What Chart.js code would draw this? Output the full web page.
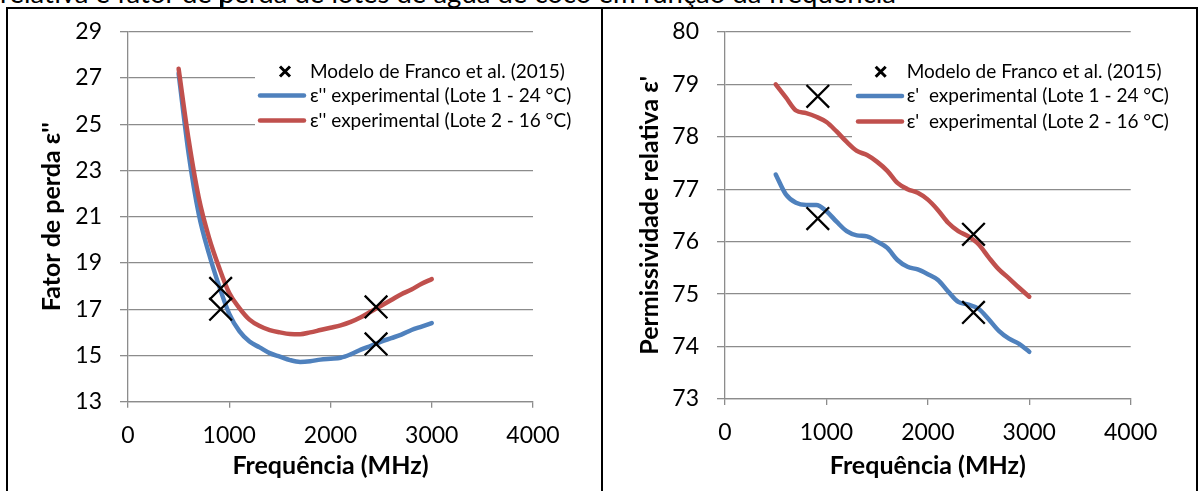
<!DOCTYPE html>
<html>
<head>
<meta charset="utf-8">
<script src="https://cdn.jsdelivr.net/npm/chart.js@4/dist/chart.umd.min.js"></script>
<style>
  html, body { margin: 0; padding: 0; background: #fff; width: 1198px; height: 491px; overflow: hidden; }
  .caption { position: absolute; left: 0; top: -24px; font-family: Lato, "Open Sans", sans-serif; font-size: 27.5px; white-space: nowrap; color: #000; }
  .frame { position: absolute; border: 2px solid #000; box-sizing: border-box; pointer-events: none; z-index: 2; }
  .rule { position: absolute; background: #000; z-index: 2; }
  .wrap { position: absolute; top: 0; height: 491px; z-index: 1; }
  canvas { display: block; }
</style>
</head>
<body>
<div class="caption">relativa e fator de perda de lotes de água de coco em função da frequência</div>
<div class="wrap" style="left:0;width:600px"><canvas id="loss" width="600" height="491"></canvas></div>
<div class="wrap" style="left:600px;width:598px"><canvas id="perm" width="598" height="491"></canvas></div>
<div class="rule" style="left:220px;top:0;width:2px;height:8px"></div>
<div class="frame" style="left:6px;top:7px;width:597px;height:500px"></div>
<div class="frame" style="left:601px;top:7px;width:597px;height:500px"></div>

<script>
// Measured frequencies (MHz)
const freqMHz = [500, 600, 700, 800, 900, 1000, 1100, 1200, 1300, 1400, 1500, 1600, 1700,
                 1800, 1900, 2000, 2100, 2200, 2300, 2400, 2500, 2600, 2700, 2800, 2900, 3000];

// Loss factor ε''
const lossLote1 = [27.2, 23.7, 21.1, 19.4, 18.0, 16.8, 16.05, 15.6, 15.35, 15.1, 14.95, 14.8, 14.72,
                   14.75, 14.82, 14.86, 14.9, 15.05, 15.25, 15.42, 15.6, 15.75, 15.9, 16.1, 16.25, 16.4];
const lossLote2 = [27.4, 24.3, 21.8, 20.1, 18.8, 17.7, 17.05, 16.55, 16.27, 16.1, 16.0, 15.93, 15.92,
                   16.0, 16.1, 16.2, 16.3, 16.45, 16.65, 16.9, 17.15, 17.4, 17.65, 17.85, 18.1, 18.3];

// Relative permittivity ε'
const permLote1 = [77.28, 76.9, 76.74, 76.7, 76.7, 76.58, 76.38, 76.2, 76.12, 76.1, 76.0, 75.88, 75.65,
                   75.52, 75.47, 75.38, 75.27, 75.05, 74.85, 74.8, 74.72, 74.52, 74.3, 74.15, 74.05, 73.9];
const permLote2 = [79.0, 78.75, 78.5, 78.45, 78.38, 78.28, 78.1, 77.9, 77.73, 77.65, 77.52, 77.35, 77.12,
                   77.0, 76.93, 76.8, 76.6, 76.36, 76.2, 76.1, 75.95, 75.7, 75.47, 75.3, 75.12, 74.95];

// Franco et al. (2015) model points
const modelFreq = [915, 915, 2450, 2450];
const modelLoss = [17.9, 17.0, 17.1, 15.5];
const modelPerm = [78.77, 76.44, 76.14, 74.65];

// Axis ticks
const freqTicks = [0, 1000, 2000, 3000, 4000];
const lossTicks = [13, 15, 17, 19, 21, 23, 25, 27, 29];
const permTicks = [73, 74, 75, 76, 77, 78, 79, 80];

const seriesLabels = {
  model: 'Modelo de Franco et al. (2015)',
  loss1: "ε'' experimental (Lote 1 - 24 °C)",
  loss2: "ε'' experimental (Lote 2 - 16 °C)",
  perm1: "ε'  experimental (Lote 1 - 24 °C)",
  perm2: "ε'  experimental (Lote 2 - 16 °C)"
};

const FONT = 'Lato, "Open Sans", sans-serif';
const BLUE = '#4F81BD';
const RED = '#C0504D';
const GRID = '#8c8c8c';

const pts = (xs, ys) => xs.map((x, i) => ({ x: x, y: ys[i] }));

// Legend drawn inside the plot on a white panel
const insideLegend = {
  id: 'insideLegend',
  beforeDatasetsDraw(chart, args, o) {
    const ctx = chart.ctx;
    ctx.save();
    ctx.fillStyle = '#fff';
    ctx.fillRect(o.x, o.y, o.w, o.h);
    ctx.font = o.fontSize + 'px ' + FONT;
    ctx.textBaseline = 'middle';
    ctx.textAlign = 'left';
    chart.data.datasets.forEach((ds, i) => {
      const cy = o.rowY[i];
      if (ds.showLine === false) {
        const r = 5;
        ctx.strokeStyle = '#000';
        ctx.lineWidth = 3;
        ctx.beginPath();
        ctx.moveTo(o.markX - r, cy - r); ctx.lineTo(o.markX + r, cy + r);
        ctx.moveTo(o.markX - r, cy + r); ctx.lineTo(o.markX + r, cy - r);
        ctx.stroke();
      } else {
        ctx.strokeStyle = ds.borderColor;
        ctx.lineWidth = 4.5;
        ctx.lineCap = 'round';
        ctx.beginPath();
        ctx.moveTo(o.lineX0, cy); ctx.lineTo(o.lineX1, cy);
        ctx.stroke();
      }
      ctx.fillStyle = '#000';
      ctx.fillText(ds.label, o.textX, cy);
    });
    ctx.restore();
  }
};

function makeChart(id, cfg) {
  return new Chart(document.getElementById(id), {
    type: 'line',
    data: {
      datasets: [
        { label: seriesLabels.model, data: pts(modelFreq, cfg.model), showLine: false,
          pointStyle: 'crossRot', pointRadius: 16, pointHoverRadius: 16,
          borderColor: '#000', backgroundColor: '#000', pointBorderWidth: 2.3, order: 0 },
        { label: cfg.label1, data: pts(freqMHz, cfg.s1), borderColor: BLUE, backgroundColor: BLUE,
          borderWidth: 4.5, pointRadius: 0, cubicInterpolationMode: 'monotone', order: 2,
          borderCapStyle: 'round', borderJoinStyle: 'round' },
        { label: cfg.label2, data: pts(freqMHz, cfg.s2), borderColor: RED, backgroundColor: RED,
          borderWidth: 4.5, pointRadius: 0, cubicInterpolationMode: 'monotone', order: 1,
          borderCapStyle: 'round', borderJoinStyle: 'round' }
      ]
    },
    options: {
      responsive: false,
      devicePixelRatio: 1,
      animation: false,
      events: [],
      layout: { padding: { top: cfg.padTop, right: cfg.padRight, bottom: 0, left: 0 } },
      plugins: {
        legend: { display: false },
        tooltip: { enabled: false },
        insideLegend: cfg.legend
      },
      scales: {
        x: {
          type: 'linear', min: 0, max: 4000,
          afterBuildTicks: s => { s.ticks = freqTicks.map(v => ({ value: v })); },
          afterFit: s => { s.height = cfg.xHeight; },
          grid: { drawOnChartArea: false, drawTicks: true, tickLength: 6, color: GRID, lineWidth: 1.3 },
          border: { display: true, color: GRID, width: 1.3 },
          ticks: { font: { family: FONT, size: 23 }, color: '#000', padding: 14, maxRotation: 0,
                   callback: v => String(v) },
          title: { display: true, text: 'Frequência (MHz)', color: '#000',
                   font: { family: FONT, size: 25, weight: 'bold' }, padding: { top: 0, bottom: 10 } }
        },
        y: {
          type: 'linear', min: cfg.yMin, max: cfg.yMax,
          afterBuildTicks: s => { s.ticks = cfg.yTicks.map(v => ({ value: v })); },
          afterFit: s => { s.width = cfg.yWidth; },
          grid: { drawTicks: true, tickLength: 8, color: GRID, lineWidth: 1.3 },
          border: { display: true, color: GRID, width: 1.3 },
          ticks: { font: { family: FONT, size: 23 }, color: '#000', padding: 18,
                   callback: v => String(v) },
          title: { display: true, text: cfg.yTitle, color: '#000',
                   font: { family: FONT, size: 25, weight: 'bold' }, padding: { top: cfg.yTitlePad, bottom: 0 } }
        }
      }
    },
    plugins: [insideLegend]
  });
}

makeChart('loss', {
  model: modelLoss, s1: lossLote1, s2: lossLote2,
  label1: seriesLabels.loss1, label2: seriesLabels.loss2,
  yMin: 13, yMax: 29, yTicks: lossTicks, yTitle: "Fator de perda ε''",
  padTop: 26.7, padRight: 67, xHeight: 89.3, yWidth: 128, yTitlePad: 37,
  legend: { x: 255, y: 50, w: 345, h: 95, fontSize: 19, rowY: [71.5, 95.5, 120.5],
            markX: 285, lineX0: 260, lineX1: 304, textX: 310 }
});

makeChart('perm', {
  model: modelPerm, s1: permLote1, s2: permLote2,
  label1: seriesLabels.perm1, label2: seriesLabels.perm2,
  yMin: 73, yMax: 80, yTicks: permTicks, yTitle: "Permissividade relativa ε'",
  padTop: 28.3, padRight: 67.3, xHeight: 92, yWidth: 125, yTitlePad: 35,
  legend: { x: 252, y: 50, w: 346, h: 95, fontSize: 19, rowY: [71.7, 96, 121.5],
            markX: 280.7, lineX0: 258, lineX1: 302, textX: 306.7 }
});
</script>
</body>
</html>
